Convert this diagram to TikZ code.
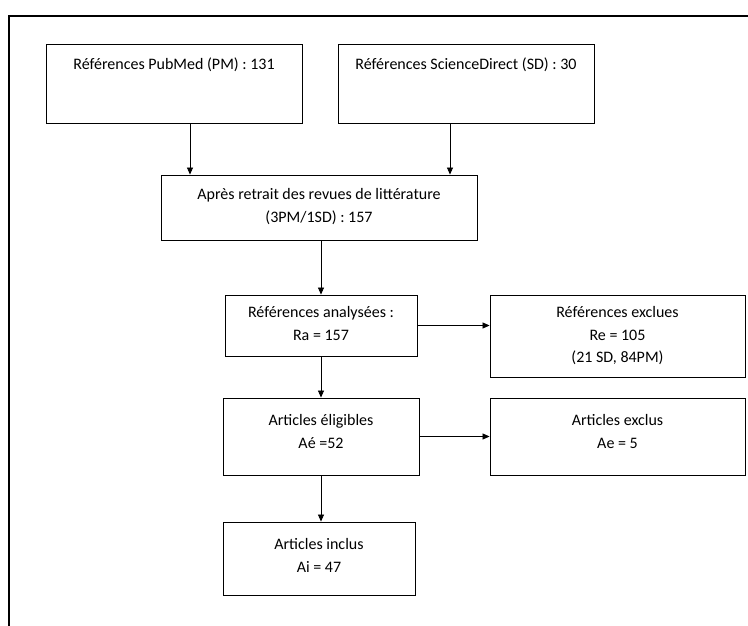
\documentclass[tikz,border=0pt]{standalone}
\usepackage{fontspec}
\setmainfont{Carlito}
\usetikzlibrary{arrows.meta}

\begin{document}
\begin{tikzpicture}[x=1pt,y=-1pt,block/.style={draw=black,line width=0.9pt,inner sep=0pt},txt/.style={anchor=north,align=center,inner sep=0pt,font=\fontsize{16}{22.5}\selectfont},arrow/.style={-{Triangle[length=7pt,width=6pt]},line width=0.7pt}]
\useasboundingbox (0,0) rectangle (748,626);
\draw[line width=2.2pt] (9,626) -- (9,16) -- (748,16);
\node[block,minimum width=256pt,minimum height=79pt] (pm) at (174,83.5) {};
\node[block,minimum width=256pt,minimum height=79pt] (sd) at (466,83.5) {};
\node[block,minimum width=316pt,minimum height=65pt] (apres) at (319,207.5) {};
\node[block,minimum width=192pt,minimum height=61pt] (ra) at (321,325.5) {};
\node[block,minimum width=255pt,minimum height=82pt] (re) at (617.5,336) {};
\node[block,minimum width=196pt,minimum height=77pt] (aeli) at (321,436.5) {};
\node[block,minimum width=255pt,minimum height=77pt] (aexc) at (617.5,436.5) {};
\node[block,minimum width=192pt,minimum height=73pt] (ai) at (319,558.5) {};
\node[txt] (pm-t) at ([yshift=-14pt]pm.north) {Références PubMed (PM) : 131};
\node[txt] (sd-t) at ([yshift=-14pt]sd.north) {Références ScienceDirect (SD) : 30};
\node[txt] (apres-t) at ([yshift=-14pt]apres.north) {Après retrait des revues de littérature\\(3PM/1SD) : 157};
\node[txt] (ra-t) at ([yshift=-12pt]ra.north) {Références analysées :\\Ra = 157};
\node[txt] (re-t) at ([yshift=-12pt]re.north) {Références exclues\\Re = 105\\(21 SD, 84PM)};
\node[txt] (aeli-t) at ([yshift=-17pt]aeli.north) {Articles éligibles\\Aé =52};
\node[txt] (aexc-t) at ([yshift=-17pt]aexc.north) {Articles exclus\\Ae = 5};
\node[txt] (ai-t) at ([yshift=-17pt]ai.north) {Articles inclus\\Ai = 47};
\draw[arrow] ([xshift=16pt]pm.south) -- ([xshift=16pt]pm.south |- apres.north);
\draw[arrow] ([xshift=-16pt]sd.south) -- ([xshift=-16pt]sd.south |- apres.north);
\draw[arrow] (ra.north |- apres.south) -- (ra.north);
\draw[arrow] (ra.east) -- (ra.east -| re.west);
\draw[arrow] (ra.south) -- (aeli.north);
\draw[arrow] (aeli.east) -- (aeli.east -| aexc.west);
\draw[arrow] (aeli.south) -- (aeli.south |- ai.north);
\end{tikzpicture}
\end{document}
